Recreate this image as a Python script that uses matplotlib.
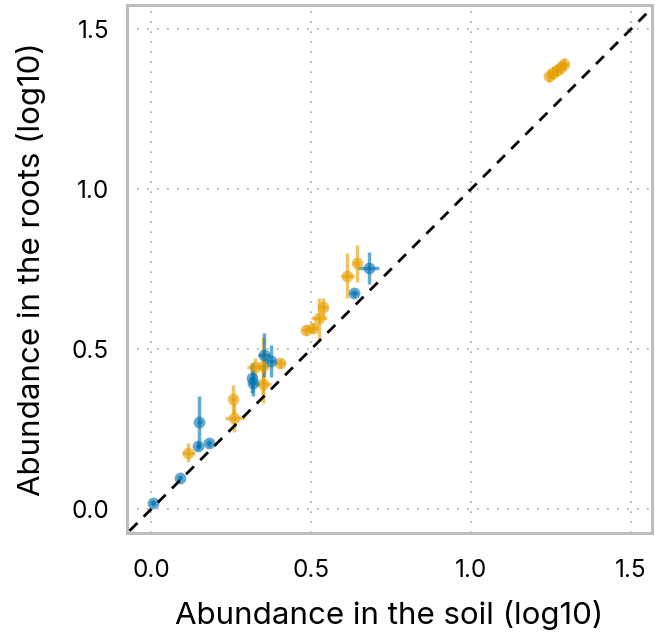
import numpy as np
import matplotlib.pyplot as plt

plt.rcParams['font.family'] = ['Inter', 'DejaVu Sans']

# blue group
blue_x = [0.007, 0.089, 0.148, 0.151, 0.181, 0.315, 0.318, 0.353, 0.374, 0.635, 0.681]
blue_y = [0.019, 0.099, 0.198, 0.273, 0.206, 0.409, 0.394, 0.482, 0.463, 0.675, 0.753]
blue_xerr = [0.010, 0.008, 0.008, 0.008, 0.010, 0.010, 0.012, 0.020, 0.015, 0.012, 0.033]
blue_yerr = [0.010, 0.008, 0.012, 0.080, 0.010, 0.047, 0.040, 0.070, 0.050, 0.012, 0.050]

# orange group
orange_x = [0.117, 0.257, 0.260, 0.326, 0.351, 0.351, 0.403, 0.485, 0.505, 0.526, 0.539, 0.614, 0.643,
            1.245, 1.257, 1.270, 1.282, 1.293]
orange_y = [0.177, 0.344, 0.286, 0.444, 0.448, 0.391, 0.456, 0.560, 0.567, 0.597, 0.631, 0.730, 0.769,
            1.355, 1.365, 1.373, 1.382, 1.392]
orange_xerr = [0.020, 0.010, 0.030, 0.025, 0.015, 0.025, 0.015, 0.012, 0.015, 0.025, 0.010, 0.020, 0.012,
               0.010, 0.010, 0.010, 0.010, 0.010]
orange_yerr = [0.030, 0.045, 0.045, 0.030, 0.090, 0.060, 0.015, 0.015, 0.015, 0.065, 0.030, 0.070, 0.057,
               0.020, 0.020, 0.020, 0.020, 0.020]

fig = plt.figure(figsize=(6.55, 6.36), dpi=100)
ax = fig.add_axes([0.194, 0.162, 0.8015, 0.830])

ax.errorbar(orange_x, orange_y, xerr=orange_xerr, yerr=orange_yerr, fmt='o', color='#E69F00',
            ms=8.5, alpha=0.6, elinewidth=2.5, capsize=0, mew=0, zorder=3)
ax.errorbar(blue_x, blue_y, xerr=blue_xerr, yerr=blue_yerr, fmt='o', color='#0072B2',
            ms=8.5, alpha=0.6, elinewidth=2.5, capsize=0, mew=0, zorder=3)

lims = [-0.2, 1.7]
ax.plot(lims, lims, color='black', lw=2.0, dashes=(4, 3.2), zorder=4)

ax.set_xlim(-0.075, 1.567)
ax.set_ylim(-0.074, 1.576)
ax.set_xticks([0, 0.5, 1.0, 1.5])
ax.set_yticks([0, 0.5, 1.0, 1.5])
ax.set_xticklabels(['0.0', '0.5', '1.0', '1.5'])
ax.set_yticklabels(['0.0', '0.5', '1.0', '1.5'])
ax.tick_params(length=0, labelsize=17.5)
ax.tick_params(axis='x', pad=19)
ax.tick_params(axis='y', pad=13)
ax.grid(True, color='#a8a8a8', lw=1.2, dashes=(1, 5))
for s in ax.spines.values():
    s.set_color('#bdbdbd')
    s.set_linewidth(2.2)

ax.set_xlabel('Abundance in the soil (log10)', fontsize=22.5, labelpad=13)
ax.set_ylabel('Abundance in the roots (log10)', fontsize=22.5, labelpad=18)

fig.savefig('out.png', dpi=100)
